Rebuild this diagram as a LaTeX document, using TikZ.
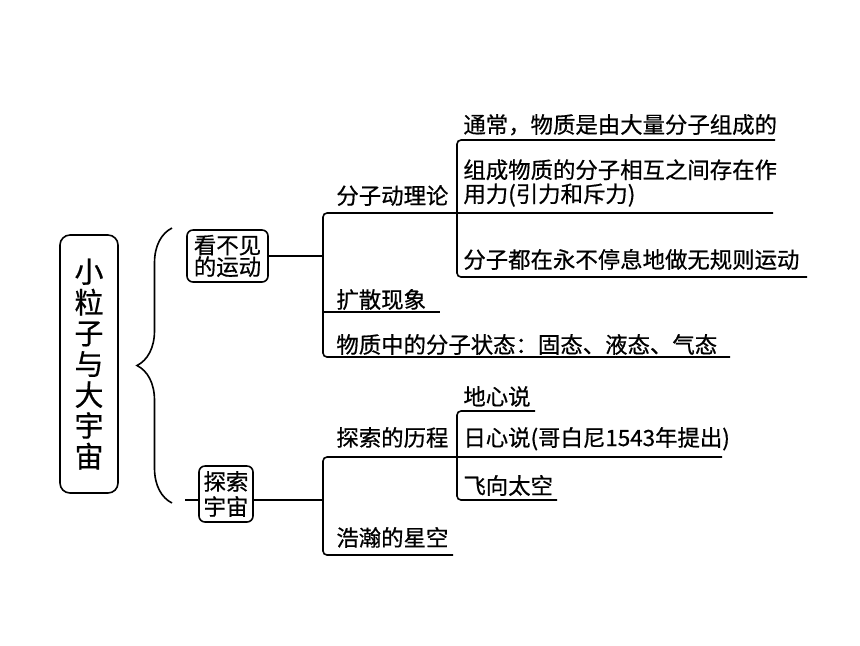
\documentclass[tikz,border=0pt]{standalone}
\usepackage{fontspec}
\setmainfont{Noto Sans CJK SC}[FakeBold=0.6]
\usepackage{tikz}
\usetikzlibrary{positioning,decorations.pathreplacing}
\tikzstyle{titlebox} = [draw, line width=0.8pt, rounded corners=5pt,
    minimum width=29pt, minimum height=129pt, align=center, inner sep=0pt,
    font=\fontsize{14.5}{15.4}\selectfont]
\tikzstyle{topicbox} = [draw, line width=0.8pt, rounded corners=3pt,
    align=center, inner sep=0pt, font=\fontsize{11.2}{10.8}\selectfont]
\tikzstyle{leaf} = [anchor=base west, inner sep=0pt, font=\fontsize{11.2}{12}\selectfont]
\tikzstyle{branch} = [line width=0.8pt, rounded corners=2pt]

\begin{document}
\begin{tikzpicture}[x=0.5pt,y=-0.5pt]
\useasboundingbox (0,0) rectangle (860,645);
\node [titlebox] (title) at (89,364) {小\\粒\\子\\与\\大\\宇\\宙};
\node [topicbox, minimum width=40.5pt, minimum height=26pt] (see) at (227.5,256) {看不见\\的运动};
\node [topicbox, minimum width=27pt, minimum height=28pt,
    font=\fontsize{11.2}{12.5}\selectfont] (explore) at (226,494) {探索\\宇宙};
% brace
\coordinate (bracetop) at (172,228);
\coordinate (bracebot) at (172,503);
\draw [line width=0.8pt, decorate, decoration={brace, amplitude=17.5pt}] (bracebot) -- (bracetop);
\coordinate (stub) at (185,500);
\draw [branch] (stub) -- (stub -| explore.west);
% first branch
\coordinate (j1) at (323,213);
\coordinate (j2) at (457,140);
\draw [branch] (see.east) -- (see.east -| j1);
\draw [branch] (773,213) -- (j1) -- (323,357) -- (730,357);
\draw [branch] (323,312) -- (440,312);
\draw [branch] (775,140) -- (j2) -- (457,277) -- (807,277);
\node [leaf] (kin) at (336,204) {分子动理论};
\node [leaf] (diff) at (336,308) {扩散现象};
\node [leaf] (state) at (336,353) {物质中的分子状态：固态、液态、气态};
\node [leaf] (k1) at (463,133) {通常，物质是由大量分子组成的};
\node [leaf, anchor=west, align=left] (k2) at (463,183) {组成物质的分子相互之间存在作\\用力(引力和斥力)};
\node [leaf] (k3) at (463,268) {分子都在永不停息地做无规则运动};
% second branch
\coordinate (j3) at (323,457);
\coordinate (j4) at (457,411);
\draw [branch] (explore.east |- stub) -- (stub -| j3);
\draw [branch] (722,457) -- (j3) -- (323,555) -- (453,555);
\draw [branch] (535,411) -- (j4) -- (457,500) -- (557,500);
\node [leaf] (hist) at (336,446) {探索的历程};
\node [leaf] (sky) at (336,546) {浩瀚的星空};
\node [leaf] (h1) at (463,405) {地心说};
\node [leaf] (h2) at (463,446) {日心说(哥白尼1543年提出)};
\node [leaf] (h3) at (463,494) {飞向太空};
\end{tikzpicture}
\end{document}
